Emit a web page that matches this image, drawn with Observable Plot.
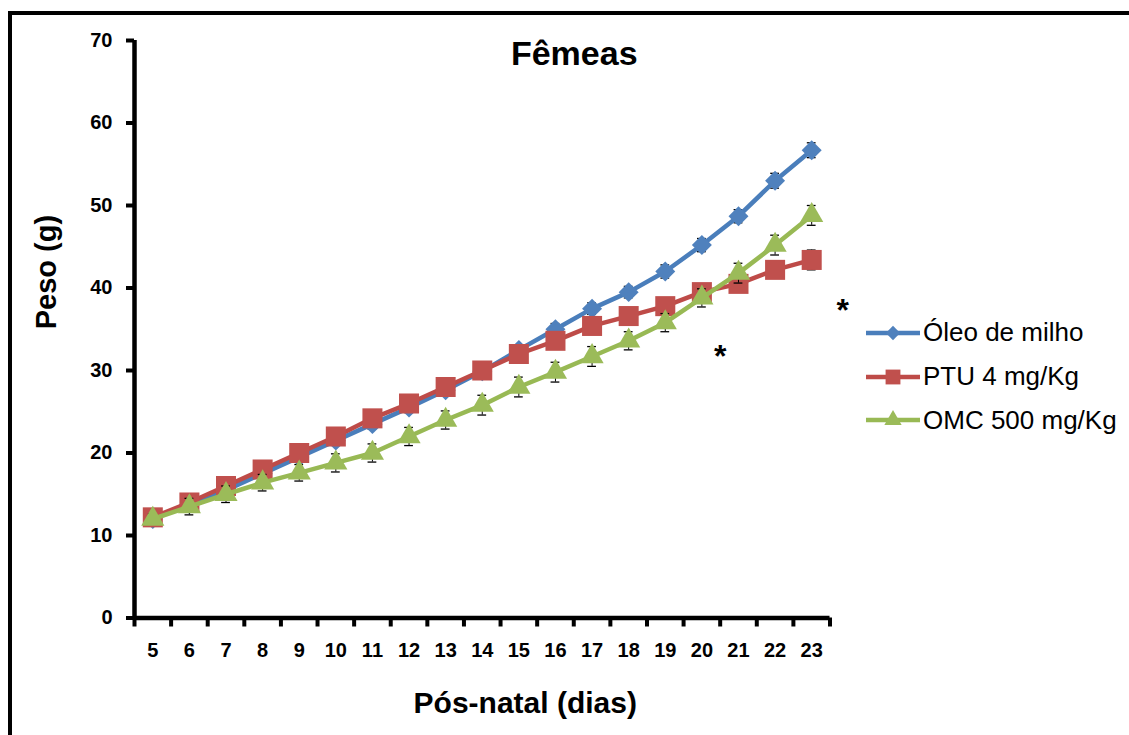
<!DOCTYPE html>
<html>
<head>
<meta charset="utf-8">
<script src="https://cdn.jsdelivr.net/npm/d3@7"></script>
<script src="https://cdn.jsdelivr.net/npm/@observablehq/plot@0.6"></script>
<style>
  html, body { margin: 0; padding: 0; background: #fff; overflow: hidden; width: 1129px; height: 735px; }
  #frameTop { position: absolute; left: 8px; top: 11px; width: 1121px; height: 4px; background: #000; }
  #frameLeft { position: absolute; left: 8px; top: 11px; width: 4px; height: 724px; background: #000; }
  #chart { position: absolute; left: 0; top: 0; }
  #legend { position: absolute; left: 864px; top: 311px; font-family: "Liberation Sans", Arial, sans-serif; font-size: 26px; color: #000; }
  .row { display: flex; align-items: center; height: 43.7px; }
  .row svg { margin-right: 1px; }
</style>
</head>
<body>
<div id="frameTop"></div>
<div id="frameLeft"></div>
<div id="chart"></div>
<div id="legend"></div>
<script>
// ---- data ----
const days = [5, 6, 7, 8, 9, 10, 11, 12, 13, 14, 15, 16, 17, 18, 19, 20, 21, 22, 23];
const seriesNames = ["Óleo de milho", "PTU 4 mg/Kg", "OMC 500 mg/Kg"];
const oleo = [12.0, 13.8, 15.5, 17.5, 19.5, 21.5, 23.5, 25.5, 27.6, 29.9, 32.5, 35.0, 37.5, 39.5, 42.0, 45.2, 48.7, 53.0, 56.7];
const ptu  = [12.2, 14.0, 16.0, 18.0, 20.0, 22.0, 24.2, 26.0, 28.0, 30.0, 32.0, 33.6, 35.4, 36.6, 37.8, 39.5, 40.5, 42.2, 43.4];
const omc  = [12.0, 13.5, 15.0, 16.4, 17.6, 18.8, 20.0, 22.0, 24.0, 25.8, 28.0, 29.8, 31.7, 33.6, 35.8, 38.8, 41.8, 45.2, 48.8];
const oleoErr = [0.4, 0.4, 0.4, 0.5, 0.5, 0.5, 0.6, 0.6, 0.6, 0.6, 0.6, 0.7, 0.7, 0.7, 0.8, 0.8, 0.8, 0.9, 0.9];
const ptuErr  = [0.4, 0.4, 0.5, 0.5, 0.5, 0.5, 0.5, 0.6, 0.6, 0.6, 0.6, 0.7, 0.7, 0.7, 0.8, 0.8, 0.9, 1.0, 1.2];
const omcErr  = [0.6, 1.0, 1.0, 1.0, 1.0, 1.1, 1.1, 1.1, 1.1, 1.2, 1.2, 1.2, 1.2, 1.1, 1.1, 1.1, 1.2, 1.2, 1.2];
const yTicks = [0, 10, 20, 30, 40, 50, 60, 70];
const asteriskDays = [20.5, 23.85];
const asteriskValues = [31.7, 37.3];
const titleText = "Fêmeas";
const yLabel = "Peso (g)";
const xLabel = "Pós-natal (dias)";

// ---- styles ----
const lineColors = ["#4A7EBB", "#BE4B48", "#98B954"];
const markColors = ["#4F81BD", "#C0504D", "#9BBB59"];
const symbols = ["diamond2", "square", "triangle"];
const radii = [9, 11.3, 8.6];

const values = [oleo, ptu, omc];
const errs = [oleoErr, ptuErr, omcErr];
const table = seriesNames.flatMap((s, i) => days.map((d, j) => ({
  series: s, idx: i, day: d, value: values[i][j], err: errs[i][j]
})));
const boundaries = d3.range(days[0] - 0.5, days[days.length - 1] + 1, 1);
const font = "Liberation Sans, Arial, sans-serif";

const marks = [];
// axes
marks.push(Plot.axisY({ticks: yTicks, tickSize: 8, tickPadding: 14, tickFormat: d => d, label: null, strokeWidth: 4, fontWeight: "bold", fontSize: 20}));
marks.push(Plot.axisX({ticks: boundaries, tickSize: 9, tickFormat: () => "", label: null, strokeWidth: 4}));
marks.push(Plot.axisX({ticks: days, tickSize: 0, tickPadding: 25, tickFormat: d => d, label: null, fontWeight: "bold", fontSize: 20}));
marks.push(Plot.ruleX([days[0] - 0.5], {stroke: "#000", strokeWidth: 4.5}));
marks.push(Plot.ruleY([0], {x1: days[0] - 0.5, x2: days[days.length - 1] + 0.5, stroke: "#000", strokeWidth: 4.5}));
// series
seriesNames.forEach((s, i) => {
  const rows = table.filter(r => r.idx === i);
  marks.push(Plot.ruleX(rows, {x: "day", y1: r => r.value - r.err, y2: r => r.value + r.err, stroke: "#000", strokeWidth: 1}));
  marks.push(Plot.ruleY(rows, {y: r => r.value + r.err, x1: r => r.day - 0.12, x2: r => r.day + 0.12, stroke: "#000", strokeWidth: 1.3}));
  marks.push(Plot.ruleY(rows, {y: r => r.value - r.err, x1: r => r.day - 0.12, x2: r => r.day + 0.12, stroke: "#000", strokeWidth: 1.3}));
  marks.push(Plot.line(rows, {x: "day", y: "value", stroke: lineColors[i], strokeWidth: 4.5}));
  marks.push(Plot.dot(rows, {x: "day", y: "value", symbol: () => symbols[i], r: radii[i], fill: markColors[i], stroke: "none"}));
});
// asterisks
marks.push(Plot.text(asteriskDays.map((d, i) => ({day: d, v: asteriskValues[i]})), {x: "day", y: "v", text: () => "*", fontSize: 32, fontWeight: "bold", fill: "#000"}));
// labels
marks.push(Plot.text([titleText], {frameAnchor: "top", dx: 92, dy: 14, fontSize: 34, fontWeight: "bold", lineAnchor: "middle"}));
marks.push(Plot.text([yLabel], {frameAnchor: "left", dx: -88, rotate: -90, fontSize: 29, fontWeight: "bold"}));
marks.push(Plot.text([xLabel], {frameAnchor: "bottom", dx: 43, dy: 95, fontSize: 30, fontWeight: "bold"}));

const chart = Plot.plot({
  width: 1129, height: 735,
  marginLeft: 134, marginRight: 299.5, marginTop: 40, marginBottom: 117.5,
  x: {domain: [days[0] - 0.5, days[days.length - 1] + 0.5]},
  y: {domain: [0, 70]},
  style: {fontFamily: font, background: "transparent", color: "#000", overflow: "visible"},
  marks
});
document.getElementById("chart").appendChild(chart);

// legend
const legend = document.getElementById("legend");
seriesNames.forEach((s, i) => {
  const row = document.createElement("div");
  row.className = "row";
  const sym = d3.symbol(i === 0 ? d3.symbolDiamond2 : i === 1 ? d3.symbolSquare : d3.symbolTriangle, i === 0 ? 130 : i === 1 ? 220 : 130)();
  row.innerHTML = `<svg width="58" height="26"><line x1="2" y1="13" x2="56" y2="13" stroke="${lineColors[i]}" stroke-width="4.5"/><path d="${sym}" transform="translate(29,13)" fill="${markColors[i]}"/></svg><span>${s}</span>`;
  legend.appendChild(row);
});
</script>
</body>
</html>
